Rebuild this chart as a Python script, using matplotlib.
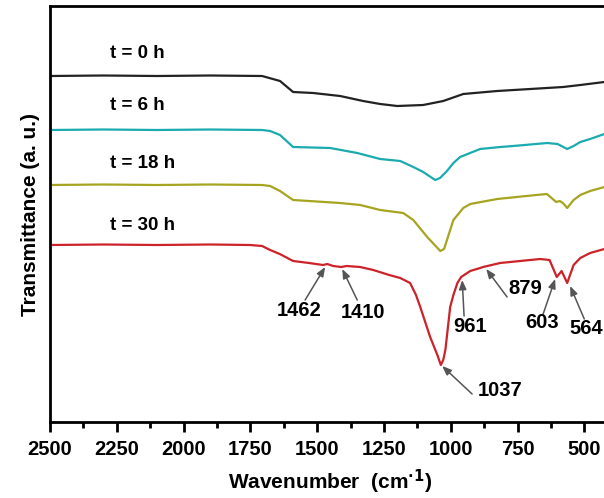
import matplotlib
matplotlib.use("Agg")
import matplotlib.pyplot as plt
from matplotlib.ticker import MultipleLocator

plt.rcParams['font.family'] = ['Liberation Sans', 'DejaVu Sans']
plt.rcParams['font.weight'] = 'bold'
plt.rcParams['mathtext.default'] = 'regular'

# FTIR spectra (wavenumber, transmittance a.u.)
wn_0h = [2500, 2300, 2100, 1900, 1706, 1639, 1590, 1515, 1414, 1328, 1264, 1200,
         1103, 1028, 953, 826, 702, 579, 515, 425, 400]
tr_0h = [346, 346.5, 346, 346.5, 346, 341, 330, 329, 326, 321, 318, 316,
         317, 321, 328, 331, 333, 335, 337, 340, 341]

wn_6h = [2500, 2300, 2100, 1900, 1706, 1676, 1639, 1590, 1451, 1350, 1264, 1189,
         1140, 1103, 1058, 1040, 1014, 990, 965, 890, 815, 766, 639, 600,
         564, 540, 515, 478, 425, 400]
tr_6h = [292, 292.5, 292, 292.5, 292, 291, 287, 275, 274, 269, 263, 261,
         255, 250, 242, 244, 251, 259, 265, 273, 275, 276, 279, 278,
         273, 276, 280, 283, 288, 289]

wn_18h = [2500, 2300, 2100, 1900, 1706, 1676, 1639, 1590, 1414, 1339, 1264, 1178,
          1140, 1088, 1039, 1025, 1014, 1002, 990, 953, 927, 826, 680, 640,
          605, 592, 580, 564, 540, 515, 478, 425, 400]
tr_18h = [237, 237.5, 237, 237.5, 237, 236, 231, 222, 219, 217, 212, 209,
          202, 185, 171, 173, 182, 192, 202, 214, 218, 223, 227, 228,
          220, 221, 219, 214, 222, 227, 231, 235, 236]

wn_30h = [2500, 2300, 2100, 1900, 1751, 1706, 1676, 1640, 1590, 1530, 1478, 1462,
          1440, 1410, 1390, 1339, 1290, 1230, 1189, 1152, 1130, 1114, 1077, 1050,
          1037, 1028, 1020, 1002, 990, 975, 961, 927, 890, 879, 815, 740,
          665, 630, 603, 585, 564, 540, 515, 478, 425, 400]
tr_30h = [177, 177.5, 177, 177.5, 177, 176, 172, 168, 161, 159, 157, 158,
          156, 155, 156, 155, 152, 147, 144, 139, 127, 115, 85, 67,
          57, 62, 72, 115, 127, 139, 145, 151, 154, 155, 159, 161,
          163, 162, 145, 151, 139, 157, 164, 169, 173, 174]

series = [
    ("t = 0 h", wn_0h, tr_0h, "#222222", 369),
    ("t = 6 h", wn_6h, tr_6h, "#1aabb0", 317),
    ("t = 18 h", wn_18h, tr_18h, "#a6a420", 259),
    ("t = 30 h", wn_30h, tr_30h, "#cc2229", 196),
]

# peak labels: text, text position, arrow tail, arrow tip
peak_labels = ["1462", "1410", "961", "879", "603", "564", "1037"]
label_pos = [(1567, 112), (1328, 110), (927, 95), (721, 134), (657, 99), (494, 94), (815, 32)]
arrow_tail = [(1545, 122), (1350, 122), (950, 106), (789, 125), (654, 108), (500, 103), (920, 28)]
arrow_tip = [(1470, 155), (1406, 153), (957, 142), (867, 153), (609, 143), (553, 136), (1032, 56)]

fig = plt.figure(figsize=(6.04, 4.98), dpi=100)
ax = fig.add_axes([50 / 604, 76 / 498, 561 / 604, 416 / 498])

for name, wn, tr, col, ylab in series:
    ax.plot(wn, tr, color=col, lw=1.6)
    ax.text(2275, ylab, name, fontsize=13.5, fontweight='bold', va='center', ha='left')

for lab, pos, tail, tip in zip(peak_labels, label_pos, arrow_tail, arrow_tip):
    ax.annotate("", xy=tip, xytext=tail,
                arrowprops=dict(arrowstyle="-|>,head_length=0.55,head_width=0.22",
                                color="#555555", lw=1.1, shrinkA=0, shrinkB=0))
    ax.text(pos[0], pos[1], lab, fontsize=14.5, fontweight='bold', ha='center', va='center')

ax.set_xlim(2500, 400)
ax.set_ylim(0, 416)
ax.xaxis.set_major_locator(MultipleLocator(250))
ax.xaxis.set_minor_locator(MultipleLocator(125))
ax.tick_params(axis='x', which='major', direction='out', length=7, width=2,
               labelsize=14.5, pad=6)
ax.tick_params(axis='x', which='minor', direction='out', length=4, width=2)
ax.set_yticks([])
for side in ['left', 'bottom', 'top', 'right']:
    ax.spines[side].set_linewidth(2)
for t in ax.get_xticklabels():
    t.set_fontweight('bold')

ax.set_xlabel("Wavenumber  (cm$^{\\mathbf{\\cdot 1}}$)", fontsize=15, fontweight='bold', labelpad=6)
ax.set_ylabel("Transmittance (a. u.)", fontsize=15, fontweight='bold', labelpad=7)

fig.savefig("out.png", dpi=100)
